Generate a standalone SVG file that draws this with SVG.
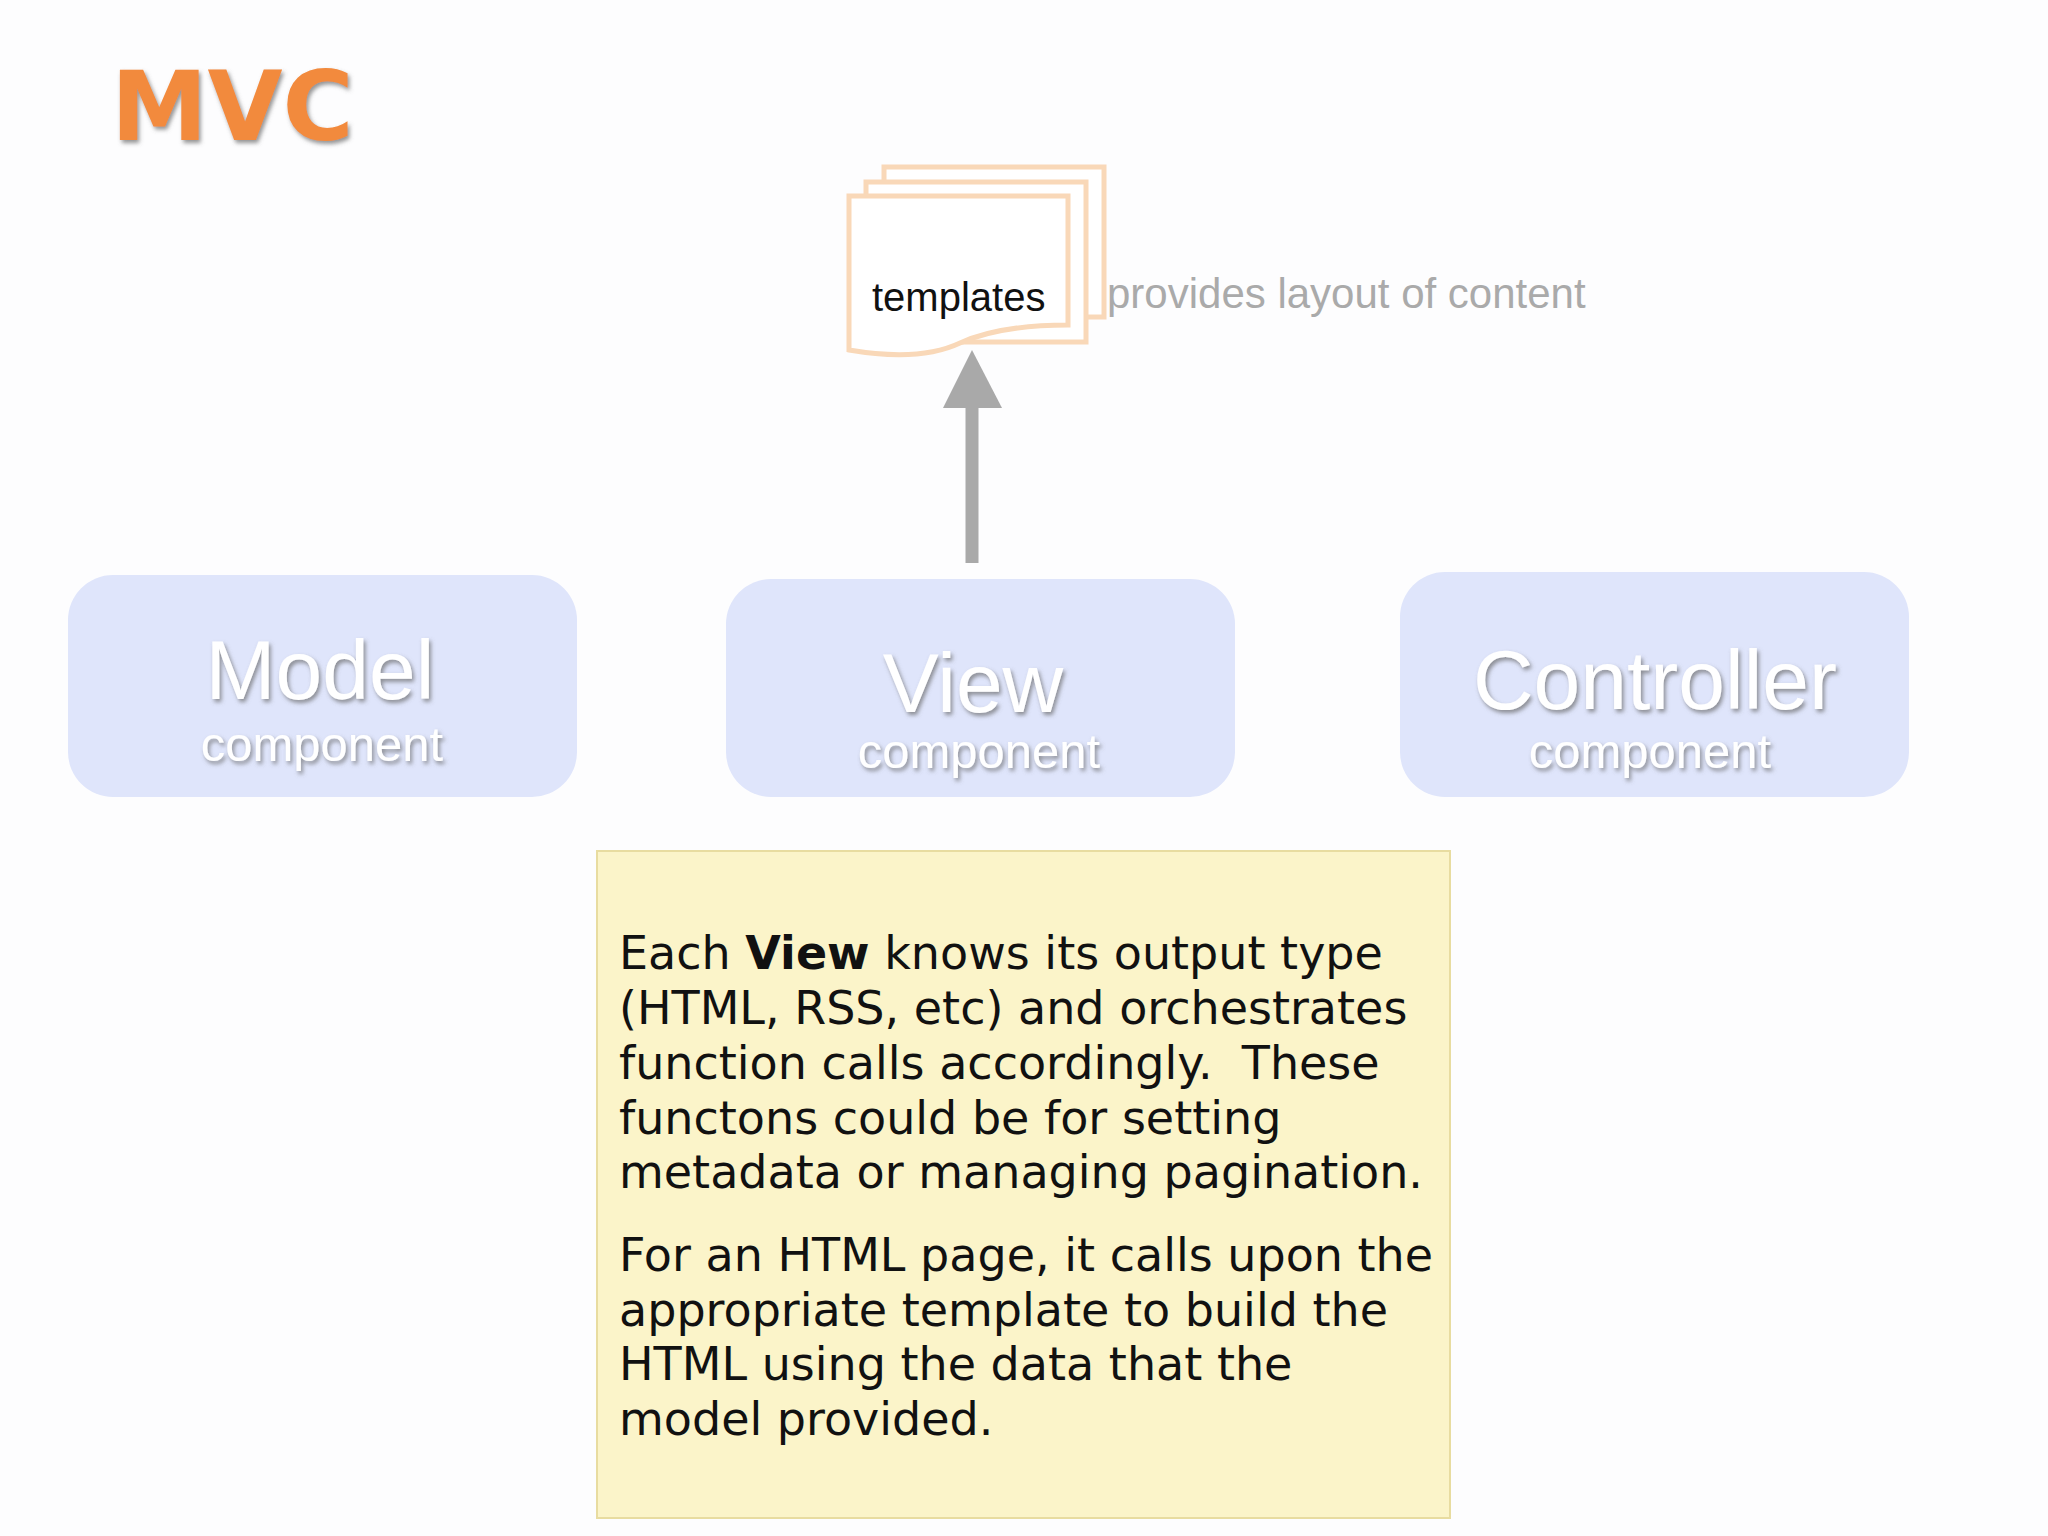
<svg xmlns="http://www.w3.org/2000/svg" width="2048" height="1536" viewBox="0 0 2048 1536">
<defs>
<filter id="sh" x="-10%" y="-10%" width="130%" height="140%"><feDropShadow dx="2" dy="3" stdDeviation="2" flood-color="#666" flood-opacity="0.7"/></filter>
</defs>
<style>
.box{fill:#dfe5fb;stroke:none}
.big{font-family:"Liberation Sans",Arial,sans-serif;font-size:84px;fill:#fff;text-anchor:middle;filter:url(#sh)}
.sub{font-family:"Liberation Sans",Arial,sans-serif;font-size:49px;fill:#fff;text-anchor:middle;filter:url(#sh)}
.body{font-family:"DejaVu Sans",Verdana,sans-serif;font-size:46px;fill:#111}
.page{fill:#fff;stroke:#f9d8b8;stroke-width:5}
</style>
<rect width="2048" height="1536" fill="#fdfdfe"/>
<text x="111" y="140" font-family="'DejaVu Sans',Verdana,sans-serif" font-weight="bold" font-size="97" fill="#f28a3c" filter="url(#sh)">MVC</text>
<g id="templates">
<rect class="page" x="884" y="167" width="220" height="150"/>
<rect class="page" x="866" y="182" width="220" height="160"/>
<path class="page" d="M849 196 H1068 V325 Q1000 325 960 343 Q920 362 849 350 Z"/>
<text x="872" y="311" font-family="'Liberation Sans',Arial,sans-serif" font-size="40" fill="#111">templates</text>
</g>
<text x="1107" y="308" font-family="'Liberation Sans',Arial,sans-serif" font-size="42" fill="#aaa">provides layout of content</text>
<g id="model"><rect class="box" x="68" y="575" width="509" height="222" rx="45"/><text class="big" x="320" y="699">Model</text><text class="sub" x="322" y="761">component</text></g>
<g id="view"><rect class="box" x="726" y="579" width="509" height="218" rx="45"/><text class="big" x="973" y="712">View</text><text class="sub" x="979" y="768">component</text></g>
<g id="controller"><rect class="box" x="1400" y="572" width="509" height="225" rx="45"/><text class="big" x="1655" y="709">Controller</text><text class="sub" x="1650" y="768">component</text></g>
<g id="connectors"><line x1="972" y1="563" x2="972" y2="400" stroke="#a9a9a9" stroke-width="13"/><polygon points="943,408 972,350 1002,408" fill="#a9a9a9"/></g>
<g id="note">
<rect x="597" y="851" width="853" height="667" fill="#fbf4c9" stroke="#e8dca0" stroke-width="2"/>
<text class="body" xml:space="preserve"><tspan x="619" y="969">Each <tspan font-weight="bold">View</tspan> knows its output type</tspan><tspan x="619" y="1024">(HTML, RSS, etc) and orchestrates</tspan><tspan x="619" y="1079">function calls accordingly.  These</tspan><tspan x="619" y="1134">functons could be for setting</tspan><tspan x="619" y="1188">metadata or managing pagination.</tspan><tspan x="619" y="1271">For an HTML page, it calls upon the</tspan><tspan x="619" y="1326">appropriate template to build the</tspan><tspan x="619" y="1380">HTML using the data that the</tspan><tspan x="619" y="1435">model provided.</tspan></text>
</g>
</svg>
